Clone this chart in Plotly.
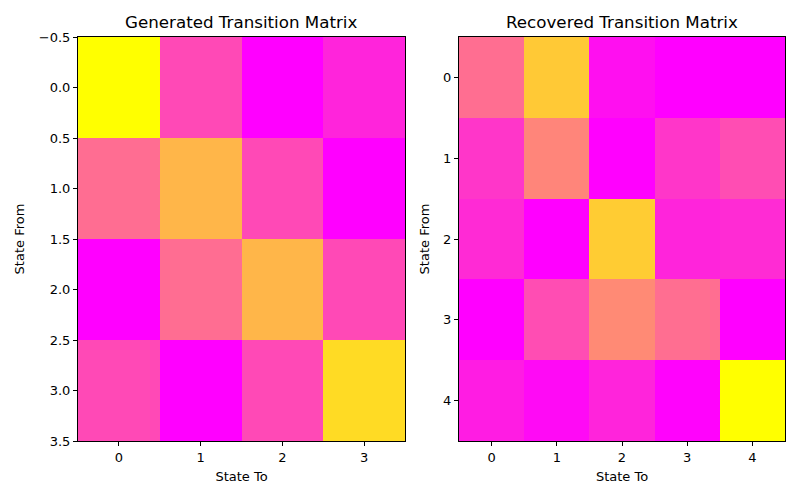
import plotly.graph_objects as go

gen_states = [0, 1, 2, 3]
rec_states = [0, 1, 2, 3, 4]

generated = [
    [0.70, 0.20, 0.00, 0.10],
    [0.30, 0.50, 0.20, 0.00],
    [0.00, 0.30, 0.50, 0.20],
    [0.20, 0.00, 0.20, 0.60],
]

recovered = [
    [0.335, 0.616, 0.047, 0.001, 0.001],
    [0.164, 0.406, 0.002, 0.164, 0.234],
    [0.129, 0.000, 0.624, 0.109, 0.133],
    [0.001, 0.234, 0.421, 0.335, 0.001],
    [0.086, 0.031, 0.109, 0.008, 0.780],
]

left_yticks = [-0.5, 0.0, 0.5, 1.0, 1.5, 2.0, 2.5, 3.0, 3.5]
left_yticktext = ["\u22120.5", "0.0", "0.5", "1.0", "1.5", "2.0", "2.5", "3.0", "3.5"]

spring = [[0, "rgb(255,0,255)"], [1, "rgb(255,255,0)"]]

W, H = 800, 500
fig = go.Figure()
fig.add_trace(go.Heatmap(z=generated, x=gen_states, y=gen_states, colorscale=spring,
                         showscale=False, xaxis="x", yaxis="y"))
fig.add_trace(go.Heatmap(z=recovered, x=rec_states, y=rec_states, colorscale=spring,
                         showscale=False, xaxis="x2", yaxis="y2"))

font = dict(family="DejaVu Sans", size=13, color="black")
ydom = [(H - 441) / H, (H - 37) / H]
common = dict(showline=True, linecolor="black", linewidth=1, mirror=True, ticks="outside",
              ticklen=4, tickcolor="black", showgrid=False, zeroline=False,
              tickfont=font, automargin=False)

fig.update_layout(
    width=W, height=H, margin=dict(l=0, r=0, t=0, b=0),
    paper_bgcolor="white", plot_bgcolor="white", font=font,
    xaxis=dict(domain=[78 / W, 405 / W], range=[-0.5, 3.5], tickvals=gen_states,
               title=dict(text="State To", font=font, standoff=8), anchor="y", **common),
    yaxis=dict(domain=ydom, range=[3.5, -0.5], tickmode="array", tickvals=left_yticks,
               ticktext=left_yticktext,
               title=dict(text="State From", font=font, standoff=11), anchor="x", **common),
    xaxis2=dict(domain=[459 / W, 785 / W], range=[-0.5, 4.5], tickvals=rec_states,
                title=dict(text="State To", font=font, standoff=8), anchor="y2", **common),
    yaxis2=dict(domain=ydom, range=[4.5, -0.5], tickvals=rec_states,
                title=dict(text="State From", font=font, standoff=10), anchor="x2", **common),
    annotations=[
        dict(text="Generated Transition Matrix", x=(78 + 405) / 2 / W, y=(H - 22) / H,
             xref="paper", yref="paper", showarrow=False, xanchor="center", yanchor="middle",
             font=dict(family="DejaVu Sans", size=16.7, color="black")),
        dict(text="Recovered Transition Matrix", x=(459 + 785) / 2 / W, y=(H - 22) / H,
             xref="paper", yref="paper", showarrow=False, xanchor="center", yanchor="middle",
             font=dict(family="DejaVu Sans", size=16.7, color="black")),
    ],
)

fig.write_html("out.html")
